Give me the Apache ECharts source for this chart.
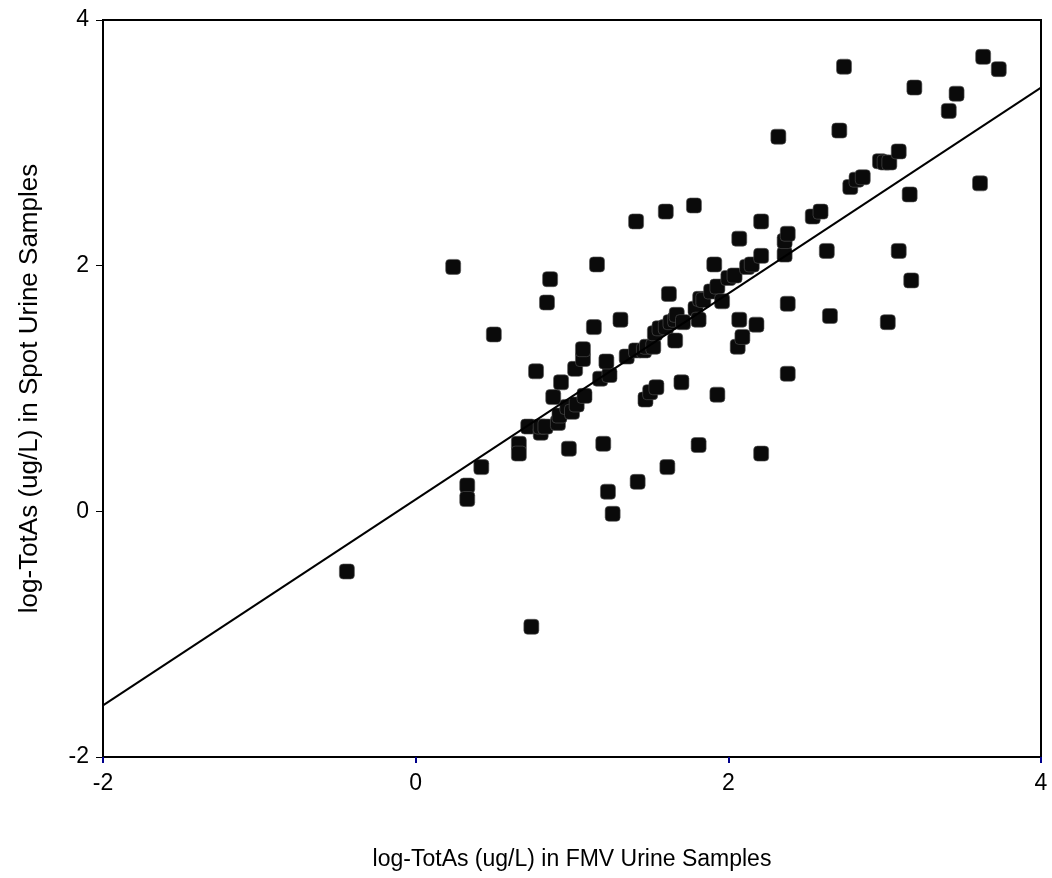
<!DOCTYPE html>
<html>
<head>
<meta charset="utf-8">
<style>
  html, body { margin: 0; padding: 0; background: #fff; }
  #ChartScatter { width: 1052px; height: 878px; }
</style>
<script src="https://cdn.jsdelivr.net/npm/echarts@6/dist/echarts.min.js"></script>
</head>
<body>
<div id="ChartScatter"></div>
<script>
var X_TITLE = 'log-TotAs (ug/L) in FMV Urine Samples';
var Y_TITLE = 'log-TotAs (ug/L) in Spot Urine Samples';
var X_TICKS = [-2, 0, 2, 4];
var Y_TICKS = [-2, 0, 2, 4];

// log FMV vs log spot
var SAMPLES = [
  [-0.44, -0.49], [0.74, -0.94], [0.24, 1.99], [0.50, 1.44],
  [0.33, 0.21], [0.33, 0.10], [0.42, 0.36],
  [0.66, 0.55], [0.66, 0.47], [0.72, 0.69], [0.80, 0.64], [0.80, 0.69], [0.83, 0.69],
  [0.77, 1.14], [0.84, 1.70], [0.86, 1.89],
  [0.88, 0.93], [0.91, 0.72], [0.92, 0.78], [0.97, 0.85], [1.00, 0.81], [1.03, 0.87], [0.93, 1.05],
  [0.98, 0.51], [1.02, 1.16], [1.07, 1.24], [1.07, 1.32], [1.08, 0.94],
  [1.14, 1.50], [1.16, 2.01], [1.18, 1.08], [1.24, 1.11], [1.22, 1.22], [1.20, 0.55], [1.23, 0.16], [1.26, -0.02],
  [1.31, 1.56], [1.35, 1.26], [1.41, 1.31], [1.41, 2.36], [1.42, 0.24],
  [1.46, 1.31], [1.48, 1.34], [1.52, 1.34], [1.47, 0.91], [1.50, 0.97], [1.54, 1.01],
  [1.53, 1.45], [1.56, 1.49], [1.60, 1.50], [1.61, 0.36], [1.60, 2.44], [1.62, 1.77],
  [1.63, 1.54], [1.66, 1.56], [1.67, 1.60], [1.66, 1.39], [1.70, 1.05], [1.71, 1.54],
  [1.78, 2.49], [1.79, 1.65], [1.81, 1.56], [1.81, 0.54], [1.82, 1.73], [1.84, 1.72],
  [1.89, 1.79], [1.93, 1.83], [1.91, 2.01], [1.96, 1.71], [1.93, 0.95],
  [2.00, 1.90], [2.04, 1.92], [2.06, 1.34], [2.09, 1.42], [2.07, 1.56], [2.07, 2.22],
  [2.12, 1.99], [2.15, 2.01], [2.18, 1.52],
  [2.21, 2.08], [2.21, 2.36], [2.21, 0.47], [2.32, 3.05],
  [2.36, 2.09], [2.36, 2.20], [2.38, 2.26], [2.38, 1.69], [2.38, 1.12],
  [2.54, 2.40], [2.59, 2.44], [2.63, 2.12], [2.65, 1.59],
  [2.71, 3.10], [2.74, 3.62], [2.78, 2.64], [2.82, 2.70], [2.86, 2.72],
  [2.97, 2.85], [3.00, 2.84], [3.03, 2.84], [3.02, 1.54], [3.09, 2.93], [3.09, 2.12],
  [3.16, 2.58], [3.17, 1.88], [3.19, 3.45],
  [3.41, 3.26], [3.46, 3.40], [3.61, 2.67], [3.63, 3.70], [3.73, 3.60]
];

// fitted line, end points at the plot edges
var FIT_LINE = [[-2, -1.58], [4, 3.45]];

var CHART_RESIZE = [];

function chartScatter() {
  var myChart = echarts.init(document.getElementById('ChartScatter'));
  var font = 'Liberation Sans, Arial, sans-serif';
  var option = {
    animation: false,
    backgroundColor: '#fff',
    grid: {
      left: 103,
      right: 11,
      top: 20,
      bottom: 121,
      show: true,
      borderColor: '#000',
      borderWidth: 2
    },
    xAxis: {
      type: 'value',
      min: X_TICKS[0],
      max: X_TICKS[X_TICKS.length - 1],
      interval: 2,
      name: X_TITLE,
      nameLocation: 'middle',
      nameGap: 91,
      nameTextStyle: { color: '#000', fontSize: 23, fontFamily: font },
      axisLine: { onZero: false, lineStyle: { color: '#000', width: 2 } },
      axisTick: { show: true, inside: false, length: 6, lineStyle: { color: '#00008b', width: 2 } },
      axisLabel: { color: '#000', fontSize: 23, fontFamily: font, margin: 15 },
      splitLine: { show: false }
    },
    yAxis: {
      type: 'value',
      min: Y_TICKS[0],
      max: Y_TICKS[Y_TICKS.length - 1],
      interval: 2,
      name: Y_TITLE,
      nameLocation: 'middle',
      nameGap: 60,
      nameTextStyle: { color: '#000', fontSize: 26, fontFamily: font },
      axisLine: { onZero: false, lineStyle: { color: '#000', width: 2 } },
      axisTick: { show: true, inside: false, length: 7, lineStyle: { color: '#000', width: 1 } },
      axisLabel: { color: '#000', fontSize: 23, fontFamily: font, margin: 14 },
      splitLine: { show: false }
    },
    series: [{
      type: 'line',
      data: FIT_LINE,
      showSymbol: false,
      lineStyle: { color: '#000', width: 2 },
      z: 3
    }, {
      type: 'scatter',
      data: SAMPLES,
      symbol: 'roundRect',
      symbolSize: 15,
      itemStyle: { color: '#0a0a0a', borderColor: '#555', borderWidth: 0.6, opacity: 1 },
      z: 2
    }]
  };
  myChart.setOption(option);
  CHART_RESIZE.push(function () {
    myChart.resize()
  })
}
chartScatter()
window.addEventListener('resize', function () {
  CHART_RESIZE.forEach(function (cb) {
    cb()
  })
})
</script>
</body>
</html>
